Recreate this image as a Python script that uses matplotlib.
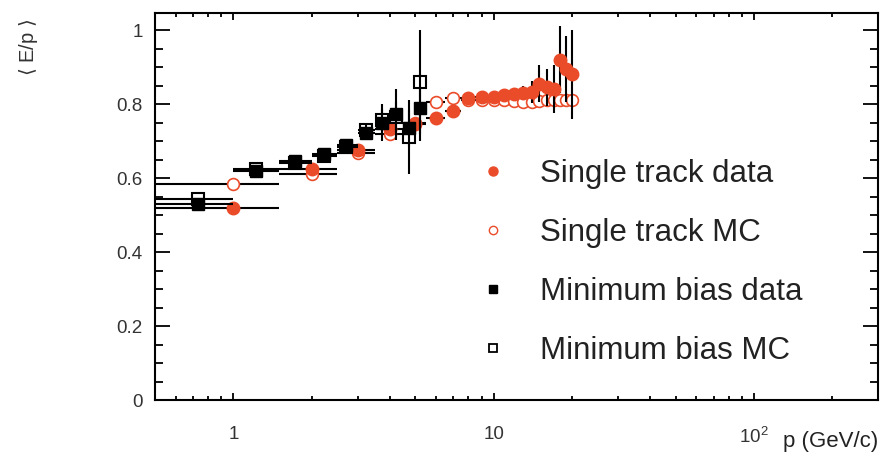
import numpy as np
import matplotlib
matplotlib.use('Agg')
import matplotlib.pyplot as plt
from matplotlib.lines import Line2D
from matplotlib.ticker import FixedLocator, LogLocator, MultipleLocator, NullFormatter

plt.rcParams['font.family'] = ['Liberation Sans', 'DejaVu Sans']

red = '#ea4b29'

# single track: data and MC, 1 GeV wide bins
st_p = [1, 2, 3, 4, 5, 6, 7, 8, 9, 10, 11, 12, 13, 14, 15, 16, 17, 18, 19, 20]
st_halfwidth = 0.5
st_data = [0.52, 0.625, 0.675, 0.733, 0.745, 0.762, 0.78, 0.815, 0.82, 0.82,
           0.825, 0.828, 0.83, 0.832, 0.855, 0.845, 0.84, 0.92, 0.895, 0.88]
st_data_err = [0.004, 0.004, 0.005, 0.006, 0.007, 0.008, 0.008, 0.008, 0.008, 0.009,
               0.01, 0.012, 0.02, 0.03, 0.05, 0.05, 0.065, 0.09, 0.09, 0.12]
st_mc = [0.585, 0.612, 0.668, 0.72, 0.75, 0.805, 0.815, 0.81, 0.81, 0.81,
         0.81, 0.808, 0.806, 0.806, 0.808, 0.81, 0.81, 0.81, 0.81, 0.81]
st_mc_err = [0.004] * len(st_p)

# minimum bias: data and MC
mb_edges = [0.5, 1.0, 1.5, 2.0, 2.5, 3.0, 3.5, 4.0, 4.5, 5.0, 5.5]
mb_p = [0.73, 1.22, 1.72, 2.22, 2.72, 3.22, 3.72, 4.22, 4.72, 5.22]
mb_data = [0.53, 0.62, 0.645, 0.665, 0.69, 0.722, 0.75, 0.772, 0.735, 0.79]
mb_data_err = [0.004, 0.005, 0.006, 0.008, 0.012, 0.02, 0.05, 0.068, 0.05, 0.09]
mb_mc = [0.543, 0.625, 0.64, 0.66, 0.685, 0.73, 0.757, 0.765, 0.71, 0.86]
mb_mc_err = [0.004, 0.005, 0.006, 0.008, 0.012, 0.02, 0.03, 0.04, 0.1, 0.14]

x_ticks = [1, 10, 100]
x_ticklabels = ['1', '10', r'$\mathregular{10^{2}}$']

fig = plt.figure(figsize=(8.81, 4.59), dpi=100)
ax = fig.add_axes([0.176, 0.1285, 0.8206, 0.8432])

mb_xerr = [np.array(mb_p) - np.array(mb_edges[:-1]), np.array(mb_edges[1:]) - np.array(mb_p)]

ax.errorbar(st_p, st_mc, yerr=st_mc_err, xerr=st_halfwidth, fmt='o', ms=8.5,
            mfc='white', mec=red, mew=1.2, ecolor='black', elinewidth=1.5,
            capsize=0, zorder=2)
ax.errorbar(st_p, st_data, yerr=st_data_err, xerr=st_halfwidth, fmt='o', ms=9,
            mfc=red, mec=red, ecolor='black', elinewidth=1.5,
            capsize=0, zorder=3)
ax.errorbar(mb_p, mb_mc, yerr=mb_mc_err, xerr=mb_xerr, fmt='s', ms=8,
            mfc='white', mec='black', mew=1.5, ecolor='black', elinewidth=1.5,
            capsize=0, zorder=4)
ax.errorbar(mb_p, mb_data, yerr=mb_data_err, xerr=mb_xerr, fmt='s', ms=9,
            mfc='black', mec='black', ecolor='black', elinewidth=1.5,
            capsize=0, zorder=5)

ax.set_xscale('log')
ax.set_xlim(0.5, 300)
ax.set_ylim(0, 1.046)

ax.xaxis.set_major_locator(FixedLocator(x_ticks))
ax.set_xticklabels(x_ticklabels)
ax.xaxis.set_minor_locator(LogLocator(base=10, subs=np.arange(2, 10)))
ax.xaxis.set_minor_formatter(NullFormatter())
ax.yaxis.set_minor_locator(MultipleLocator(0.05))
ax.set_yticks([0, 0.2, 0.4, 0.6, 0.8, 1.0])
ax.set_yticklabels(['0', '0.2', '0.4', '0.6', '0.8', '1'])

ax.tick_params(axis='both', which='both', direction='in', top=True, right=True,
               width=1.3, colors='black', labelcolor='#333333', labelsize=13.5)
ax.tick_params(axis='x', which='major', length=5, pad=19)
ax.tick_params(axis='x', which='minor', length=3)
ax.tick_params(axis='y', which='major', length=11, pad=9)
ax.tick_params(axis='y', which='minor', length=6)
for s in ax.spines.values():
    s.set_linewidth(1.5)

# legend: markers only
leg_handles = [
    Line2D([], [], ls='none', marker='o', ms=6.5, mfc=red, mec=red),
    Line2D([], [], ls='none', marker='o', ms=6, mfc='white', mec=red, mew=1),
    Line2D([], [], ls='none', marker='s', ms=6, mfc='black', mec='black'),
    Line2D([], [], ls='none', marker='s', ms=6, mfc='white', mec='black', mew=1.3),
]
leg_labels = ['Single track data', 'Single track MC', 'Minimum bias data', 'Minimum bias MC']
leg = ax.legend(leg_handles, leg_labels,
                loc='upper left', bbox_to_anchor=(0.446, 0.622), frameon=False,
                fontsize=22.5, handlelength=1.0, handletextpad=1.0,
                borderpad=0, borderaxespad=0, labelspacing=0.92)
for t in leg.get_texts():
    t.set_color('#222222')

fig.text(28 / 881, 1 - 47 / 459, r'$\langle$ E/p $\rangle$', rotation=90,
         ha='center', va='center', fontsize=14.5, color='#333333')
fig.text(878 / 881, 1 - 441 / 459, 'p (GeV/c)', ha='right', va='center',
         fontsize=16, color='#222222')

fig.savefig('out.png', dpi=100)
